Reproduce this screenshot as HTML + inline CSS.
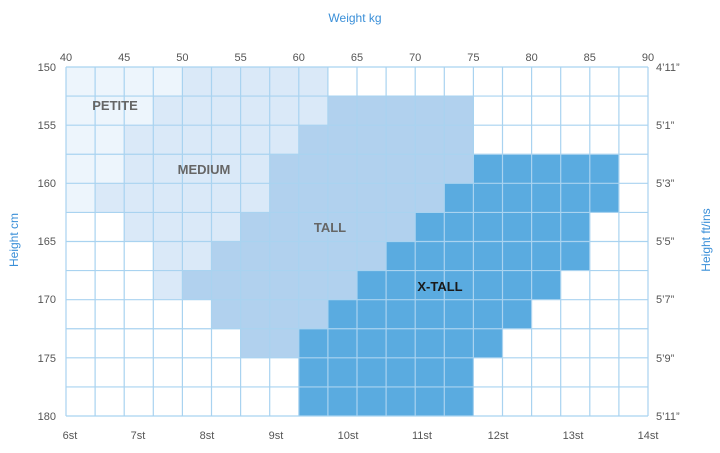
<!DOCTYPE html>
<html><head><meta charset="utf-8"><style>
html,body{margin:0;padding:0;background:#fff;}
svg{display:block;font-family:"Liberation Sans",sans-serif;}
</style></head><body>
<svg width="720" height="453" viewBox="0 0 720 453">
<g transform="translate(66,67)">
<!-- row 0 -->
<rect x="0" y="0" width="116.4" height="29.08" fill="#edf5fc"/>
<rect x="116.4" y="0" width="145.5" height="29.08" fill="#dae9f8"/>
<!-- row 1 -->
<g transform="translate(0,29.08)">
<rect x="0" width="87.3" height="29.08" fill="#edf5fc"/>
<rect x="87.3" width="174.6" height="29.08" fill="#dae9f8"/>
<rect x="261.9" width="145.5" height="29.08" fill="#b1d1ee"/>
</g>
<!-- row 2 -->
<g transform="translate(0,58.17)">
<rect x="0" width="58.2" height="29.08" fill="#edf5fc"/>
<rect x="58.2" width="174.6" height="29.08" fill="#dae9f8"/>
<rect x="232.8" width="174.6" height="29.08" fill="#b1d1ee"/>
</g>
<!-- row 3 -->
<g transform="translate(0,87.25)">
<rect x="0" width="58.2" height="29.08" fill="#edf5fc"/>
<rect x="58.2" width="145.5" height="29.08" fill="#dae9f8"/>
<rect x="203.7" width="203.7" height="29.08" fill="#b1d1ee"/>
<rect x="407.4" width="145.5" height="29.08" fill="#5aabe0"/>
</g>
<!-- row 4 -->
<g transform="translate(0,116.33)">
<rect x="0" width="29.1" height="29.08" fill="#edf5fc"/>
<rect x="29.1" width="174.6" height="29.08" fill="#dae9f8"/>
<rect x="203.7" width="174.6" height="29.08" fill="#b1d1ee"/>
<rect x="378.3" width="174.6" height="29.08" fill="#5aabe0"/>
</g>
<!-- row 5 -->
<g transform="translate(0,145.42)">
<rect x="58.2" width="116.4" height="29.08" fill="#dae9f8"/>
<rect x="174.6" width="174.6" height="29.08" fill="#b1d1ee"/>
<rect x="349.2" width="174.6" height="29.08" fill="#5aabe0"/>
</g>
<!-- row 6 -->
<g transform="translate(0,174.5)">
<rect x="87.3" width="58.2" height="29.08" fill="#dae9f8"/>
<rect x="145.5" width="174.6" height="29.08" fill="#b1d1ee"/>
<rect x="320.1" width="203.7" height="29.08" fill="#5aabe0"/>
</g>
<!-- row 7 -->
<g transform="translate(0,203.58)">
<rect x="87.3" width="29.1" height="29.08" fill="#dae9f8"/>
<rect x="116.4" width="174.6" height="29.08" fill="#b1d1ee"/>
<rect x="291" width="203.7" height="29.08" fill="#5aabe0"/>
</g>
<!-- row 8 -->
<g transform="translate(0,232.67)">
<rect x="145.5" width="116.4" height="29.08" fill="#b1d1ee"/>
<rect x="261.9" width="203.7" height="29.08" fill="#5aabe0"/>
</g>
<!-- row 9 -->
<g transform="translate(0,261.75)">
<rect x="174.6" width="58.2" height="29.08" fill="#b1d1ee"/>
<rect x="232.8" width="203.7" height="29.08" fill="#5aabe0"/>
</g>
<!-- rows 10-11 -->
<rect x="232.8" y="290.83" width="174.6" height="58.17" fill="#5aabe0"/>
<!-- grid -->
<g stroke="#a9d3f0" stroke-width="1.2" fill="none">
<path d="M0 0V349M29.1 0V349M58.2 0V349M87.3 0V349M116.4 0V349M145.5 0V349M174.6 0V349M203.7 0V349M232.8 0V349M261.9 0V349M291 0V349M320.1 0V349M349.2 0V349M378.3 0V349M407.4 0V349M436.5 0V349M465.6 0V349M494.7 0V349M523.8 0V349M552.9 0V349M582 0V349"/>
<path d="M0 0H582M0 29.08H582M0 58.17H582M0 87.25H582M0 116.33H582M0 145.42H582M0 174.5H582M0 203.58H582M0 232.67H582M0 261.75H582M0 290.83H582M0 319.92H582M0 349H582"/>
</g>
</g>
<!-- labels in grid -->
<g font-weight="bold" font-size="13" fill="#666" text-anchor="middle">
<text x="115" y="110">PETITE</text>
<text x="204" y="174">MEDIUM</text>
<text x="330" y="232">TALL</text>
<text x="440" y="291" fill="#1a1a1a">X-TALL</text>
</g>
<!-- axis titles -->
<g fill="#3a8fd8" font-size="12">
<text x="355" y="22" text-anchor="middle">Weight kg</text>
<text transform="translate(18,240) rotate(-90)" text-anchor="middle">Height cm</text>
<text transform="translate(710,240) rotate(-90)" text-anchor="middle">Height ft/ins</text>
</g>
<!-- top ticks -->
<g fill="#555" font-size="11" text-anchor="middle">
<text x="66" y="61">40</text><text x="124.2" y="61">45</text><text x="182.4" y="61">50</text><text x="240.6" y="61">55</text><text x="298.8" y="61">60</text><text x="357" y="61">65</text><text x="415.2" y="61">70</text><text x="473.4" y="61">75</text><text x="531.6" y="61">80</text><text x="589.8" y="61">85</text><text x="648" y="61">90</text>
</g>
<g fill="#555" font-size="11" text-anchor="end">
<text x="56" y="71">150</text><text x="56" y="129">155</text><text x="56" y="187">160</text><text x="56" y="245">165</text><text x="56" y="303">170</text><text x="56" y="362">175</text><text x="56" y="420">180</text>
</g>
<g fill="#555" font-size="11">
<text x="656" y="71">4’11”</text><text x="656" y="129">5’1”</text><text x="656" y="187">5’3”</text><text x="656" y="245">5’5”</text><text x="656" y="303">5’7”</text><text x="656" y="362">5’9”</text><text x="656" y="420">5’11”</text>
</g>
<g fill="#555" font-size="11" text-anchor="middle">
<text x="70" y="439">6st</text><text x="138" y="439">7st</text><text x="207" y="439">8st</text><text x="276" y="439">9st</text><text x="348" y="439">10st</text><text x="422" y="439">11st</text><text x="498" y="439">12st</text><text x="573" y="439">13st</text><text x="648" y="439">14st</text>
</g>
</svg>
</body></html>
